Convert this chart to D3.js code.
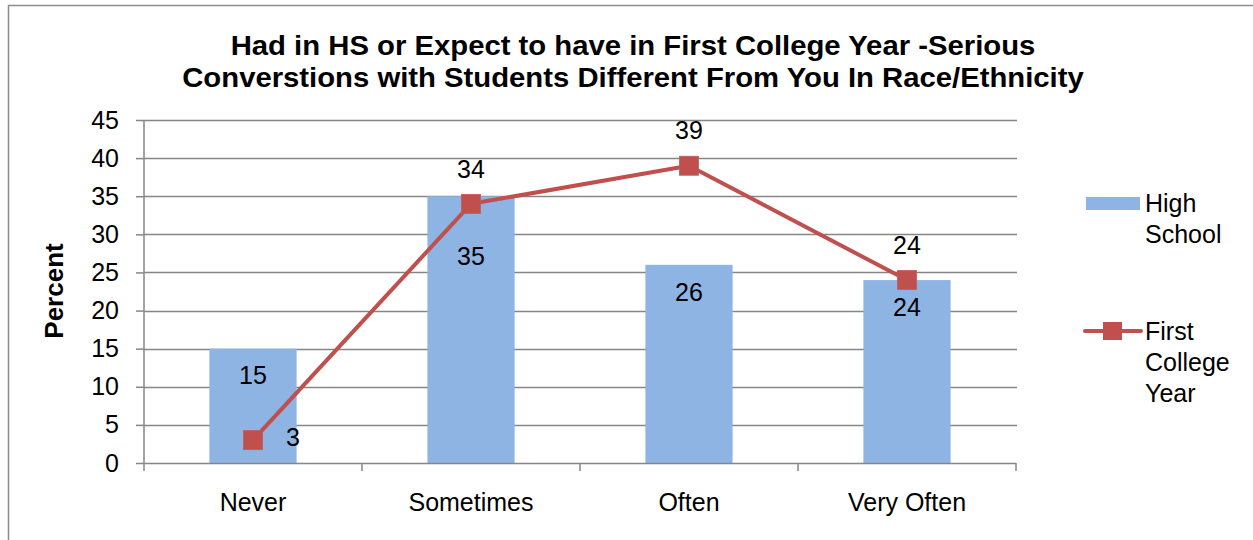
<!DOCTYPE html>
<html>
<head>
<meta charset="utf-8">
<script src="https://cdn.jsdelivr.net/npm/d3@7"></script>
<style>
  html, body { margin: 0; padding: 0; background: #fff; }
  svg { display: block; font-family: "Liberation Sans", Arial, sans-serif; }
</style>
</head>
<body>
<svg id="chart" width="1253" height="540"></svg>
<script>
// Survey responses by frequency
const categories = ["Never", "Sometimes", "Often", "Very Often"];
const highSchool = [15, 35, 26, 24];
const firstCollegeYear = [3, 34, 39, 24];
const yTicks = [0, 5, 10, 15, 20, 25, 30, 35, 40, 45];
const titleLines = [
  "Had in HS or Expect to have in First College Year -Serious",
  "Converstions with Students Different From You In Race/Ethnicity"
];
const legendHS = ["High", "School"];
const legendFCY = ["First", "College", "Year"];

const barColor = "#8EB4E3";
const lineColor = "#C0504D";
const gridColor = "#868686";
const fontSize = 25;

const svg = d3.select("#chart");

// widen glyphs horizontally around their anchor x
function stretch(sel, sx) {
  sel.each(function () {
    const t = d3.select(this);
    const x0 = +t.attr("x") || 0;
    t.attr("transform", `translate(${x0},0) scale(${sx},1) translate(${-x0},0)`);
  });
}

// outer chart frame
svg.append("rect")
  .attr("x", 8.5).attr("y", 5.5)
  .attr("width", 1300).attr("height", 600)
  .attr("fill", "none").attr("stroke", "#8c8c8c").attr("stroke-width", 1.5);

const plot = { left: 144, right: 1016, top: 120, bottom: 463 };

const x = d3.scaleBand()
  .domain(categories)
  .range([plot.left, plot.right])
  .paddingInner(0.6)
  .paddingOuter(0.3);
const step = x.step();
const cx = c => x(c) + x.bandwidth() / 2;

const y = d3.scaleLinear().domain([0, 45]).range([plot.bottom, plot.top]);

// title
svg.append("g").selectAll("text")
  .data(titleLines)
  .join("text")
  .attr("x", 633)
  .attr("y", (d, i) => 55 + i * 32)
  .attr("text-anchor", "middle")
  .attr("font-weight", "bold")
  .attr("font-size", 27.5)
  .attr("fill", "#000")
  .text(d => d)
  .call(stretch, 1.065);

// horizontal gridlines
svg.append("g").selectAll("line")
  .data(yTicks.filter(t => t > 0))
  .join("line")
  .attr("x1", plot.left).attr("x2", plot.right + 1)
  .attr("y1", d => Math.round(y(d)) + 0.5).attr("y2", d => Math.round(y(d)) + 0.5)
  .attr("stroke", gridColor).attr("stroke-width", 1.5);

// y axis
const yAxis = svg.append("g")
  .attr("transform", `translate(${plot.left},0)`)
  .call(d3.axisLeft(y).tickValues(yTicks).tickSize(8).tickPadding(17));
yAxis.select(".domain").attr("stroke", gridColor).attr("stroke-width", 1.5)
  .attr("d", `M0,${plot.top}V${plot.bottom}`);
yAxis.selectAll(".tick line").attr("stroke", gridColor).attr("stroke-width", 1.5);
yAxis.selectAll(".tick text")
  .attr("font-family", "Liberation Sans, Arial, sans-serif")
  .attr("font-size", fontSize).attr("fill", "#000");

// y axis title
svg.append("text")
  .attr("transform", "translate(63,291) rotate(-90)")
  .attr("text-anchor", "middle")
  .attr("font-weight", "bold")
  .attr("font-size", 26)
  .text("Percent");

// bars
svg.append("g").selectAll("rect")
  .data(categories)
  .join("rect")
  .attr("x", d => x(d))
  .attr("width", x.bandwidth())
  .attr("y", (d, i) => y(highSchool[i]))
  .attr("height", (d, i) => y(0) - y(highSchool[i]))
  .attr("fill", barColor);

// x axis (drawn above bars)
const xAxisG = svg.append("g");
xAxisG.append("line")
  .attr("x1", plot.left).attr("x2", plot.right)
  .attr("y1", plot.bottom + 0.5).attr("y2", plot.bottom + 0.5)
  .attr("stroke", gridColor).attr("stroke-width", 1.5);
xAxisG.selectAll("line.tick")
  .data(d3.range(categories.length + 1))
  .join("line")
  .attr("class", "tick")
  .attr("x1", i => plot.left + i * step).attr("x2", i => plot.left + i * step)
  .attr("y1", plot.bottom).attr("y2", plot.bottom + 8)
  .attr("stroke", gridColor).attr("stroke-width", 1.5);
xAxisG.selectAll("text")
  .data(categories)
  .join("text")
  .attr("x", d => cx(d))
  .attr("y", 511)
  .attr("text-anchor", "middle")
  .attr("font-size", fontSize)
  .text(d => d);

// line series
const line = d3.line()
  .x((d, i) => cx(categories[i]))
  .y(d => y(d));
svg.append("path")
  .datum(firstCollegeYear)
  .attr("d", line)
  .attr("fill", "none")
  .attr("stroke", lineColor)
  .attr("stroke-width", 4)
  .attr("stroke-linejoin", "round");

const mk = 19;
svg.append("g").selectAll("rect")
  .data(firstCollegeYear)
  .join("rect")
  .attr("x", (d, i) => cx(categories[i]) - mk / 2)
  .attr("y", d => y(d) - mk / 2)
  .attr("width", mk).attr("height", mk)
  .attr("fill", lineColor)
  .attr("stroke", "#c55a57").attr("stroke-width", 0.8);

// data labels: line labels sit above the marker unless that lands inside a bar,
// bar labels sit inside the bar top unless they would cover a marker
const labels = svg.append("g").attr("font-size", fontSize).attr("text-anchor", "middle");
categories.forEach((c, i) => {
  const barTop = y(highSchool[i]);
  const my = y(firstCollegeYear[i]);
  let barLabelY = barTop + 27;
  if (Math.abs(barLabelY - my) < 25) barLabelY = my + 52;
  labels.append("text")
    .attr("x", cx(c)).attr("y", barLabelY)
    .attr("dy", "0.35em")
    .text(highSchool[i]);

  const aboveY = my - 35;
  if (aboveY > barTop && firstCollegeYear[i] < highSchool[i]) {
    labels.append("text")
      .attr("x", cx(c) + 33).attr("y", my - 3)
      .attr("dy", "0.35em")
      .attr("text-anchor", "start")
      .text(firstCollegeYear[i]);
  } else {
    labels.append("text")
      .attr("x", cx(c)).attr("y", aboveY)
      .attr("dy", "0.35em")
      .text(firstCollegeYear[i]);
  }
});

// legend
const legend = svg.append("g").attr("font-size", fontSize);
legend.append("rect")
  .attr("x", 1086).attr("y", 197).attr("width", 54).attr("height", 13)
  .attr("fill", barColor);
legend.selectAll("text.hs")
  .data(legendHS)
  .join("text")
  .attr("class", "hs")
  .attr("x", 1145).attr("y", (d, i) => 212 + i * 31)
  .text(d => d);
legend.append("line")
  .attr("x1", 1085).attr("x2", 1141).attr("y1", 331).attr("y2", 331)
  .attr("stroke", lineColor).attr("stroke-width", 4).attr("stroke-linecap", "round");
legend.append("rect")
  .attr("x", 1103).attr("y", 322).attr("width", 19).attr("height", 18)
  .attr("fill", lineColor);
legend.selectAll("text.fcy")
  .data(legendFCY)
  .join("text")
  .attr("class", "fcy")
  .attr("x", 1145).attr("y", (d, i) => 340 + i * 31)
  .text(d => d);
</script>
</body>
</html>
